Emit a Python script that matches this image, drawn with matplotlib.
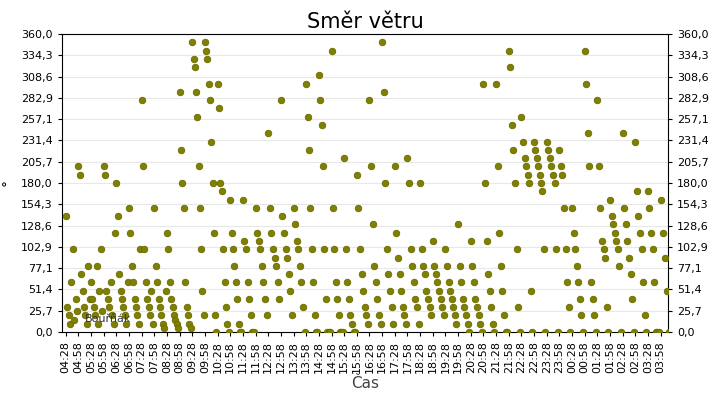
import matplotlib
matplotlib.use("Agg")
import matplotlib.pyplot as plt
import numpy as np

tick_labels = []
h, m = 4, 28
for i in range(48):
    tick_labels.append(f"{h:02d}:{m:02d}")
    m += 30
    if m >= 60:
        m -= 60; h = (h + 1) % 24

bins = [
 [140,30,20,10,60,100,15,40,25],
 [200,190,70,50,30,20,10,80,40],
 [60,40,30,20,80,10,50,100,25],
 [200,190,50,40,30,60,20,10,120],
 [180,140,70,50,40,30,20,10,60],
 [150,120,80,60,40,30,20,10,100],
 [280,200,100,60,40,30,20,50,10],
 [150,80,60,40,30,20,10,5,50],
 [120,100,60,40,30,20,15,10,5],
 [290,220,180,150,60,30,20,10,5],
 [350,330,320,290,260,200,150,100,50,20],
 [350,340,330,300,280,230,180,120,20,0],
 [300,270,180,170,100,60,30,10,0],
 [160,120,100,80,60,40,10,0,0],
 [160,110,100,60,40,20,0,0],
 [150,120,110,100,80,60,40,20],
 [240,150,120,100,90,80,60,40],
 [280,140,120,100,90,70,50,20],
 [150,130,110,100,80,60,30,0],
 [300,260,220,150,100,60,20,0,0],
 [310,280,250,200,100,40,0,0,0],
 [340,150,100,60,40,20,0,0,0],
 [210,100,60,40,20,10,0,0],
 [190,150,100,70,50,30,20,10],
 [280,200,130,80,60,40,20,10],
 [350,290,180,100,70,50,30,10],
 [200,120,90,70,50,30,20,10],
 [210,180,100,80,60,40,30,10],
 [180,100,80,70,50,40,30,20],
 [110,80,70,60,50,40,30,20],
 [100,80,60,50,40,30,20,10],
 [130,80,60,40,30,20,10,0],
 [110,80,60,40,30,20,10,0],
 [300,180,110,70,50,30,10,0],
 [300,200,120,80,50,20,0,0],
 [340,320,250,220,180,100,30,0],
 [260,230,210,200,190,180,50,0],
 [230,220,210,200,190,180,170,100,0],
 [230,220,210,200,190,180,100,0],
 [220,200,190,150,100,60,30,0],
 [150,120,100,80,60,40,20,0],
 [340,300,240,200,60,40,20,0],
 [280,200,150,110,100,90,30,0],
 [160,140,130,120,110,100,80,0],
 [240,150,130,110,90,70,40,0],
 [230,170,140,120,100,60,20,0],
 [170,150,120,100,60,0,0,0],
 [160,120,90,50,0,0],
]

xs, ys = [], []
for i, vals in enumerate(bins):
    n = len(vals)
    for j, v in enumerate(vals):
        xs.append(i + j / n)
        ys.append(v)

fig = plt.figure(figsize=(7.2, 4.0), dpi=100)
ax = fig.add_axes([0.086, 0.17, 0.842, 0.745])
ax.scatter(xs, ys, s=22, color="#808000", edgecolors="#6b6b00", linewidths=0.6, zorder=3)
yt = [i * 360 / 14 for i in range(15)]
ax.set_yticks(yt)
ax.set_yticklabels([f"{v:.1f}".replace(".", ",") for v in yt], fontsize=8)
ax.set_ylim(0, 360)
ax.set_xlim(-0.3, 47.6)
ax.set_xticks(range(48))
ax.set_xticklabels(tick_labels, rotation=90, fontsize=8)
ax.tick_params(right=True, labelright=True, length=3)
ax.grid(axis="y", color="#e8e8e8", lw=0.8)
ax.set_axisbelow(True)
ax.set_title("Směr větru", fontsize=15, pad=4)
ax.set_xlabel("Čas", fontsize=11, color="#444444", labelpad=2)
ax.set_ylabel("°", fontsize=10, rotation=90)
ax.text(1.5, 12, "Bouřňák", fontsize=8, color="#333333", zorder=4)
fig.savefig("out.png", dpi=100)
